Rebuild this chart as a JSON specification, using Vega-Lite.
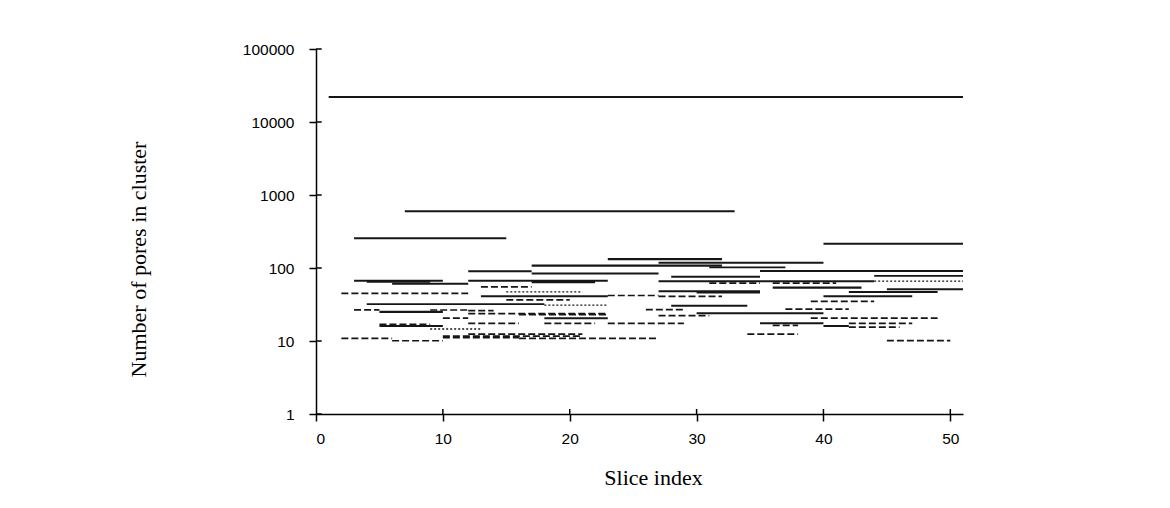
{
  "$schema": "https://vega.github.io/schema/vega-lite/v6.json",
  "width": 647,
  "height": 365,
  "autosize": "none",
  "padding": {"left": 316, "top": 49, "right": 207, "bottom": 94},
  "background": "white",
  "config": {
    "view": {"stroke": null},
    "axis": {
      "grid": false,
      "domainColor": "#000",
      "domainWidth": 1.5,
      "tickColor": "#000",
      "tickWidth": 1.5,
      "tickSize": 7,
      "labelColor": "#000",
      "labelFont": "Liberation Sans",
      "labelFontSize": 15.5,
      "titleColor": "#000",
      "titleFont": "Liberation Serif",
      "titleFontSize": 22,
      "titleFontWeight": "normal"
    }
  },
  "datasets": {
    "segments": [
      {"start": 1, "end": 51, "pores": 22000, "kind": "main"},
      {"start": 7, "end": 33, "pores": 600, "kind": "solid"},
      {"start": 3, "end": 15, "pores": 255, "kind": "solid"},
      {"start": 40, "end": 51, "pores": 215, "kind": "solid"},
      {"start": 23, "end": 32, "pores": 132, "kind": "main"},
      {"start": 27, "end": 40, "pores": 118, "kind": "solid"},
      {"start": 17, "end": 32, "pores": 108, "kind": "main"},
      {"start": 31, "end": 37, "pores": 102, "kind": "solid"},
      {"start": 12, "end": 17, "pores": 90, "kind": "solid"},
      {"start": 17, "end": 27, "pores": 84, "kind": "solid"},
      {"start": 35, "end": 51, "pores": 91, "kind": "solid"},
      {"start": 28, "end": 35, "pores": 76, "kind": "solid"},
      {"start": 44, "end": 51, "pores": 78, "kind": "solid"},
      {"start": 3, "end": 10, "pores": 67, "kind": "solid"},
      {"start": 4, "end": 9, "pores": 65, "kind": "solid"},
      {"start": 6, "end": 12, "pores": 61, "kind": "solid"},
      {"start": 12, "end": 23, "pores": 67, "kind": "solid"},
      {"start": 17, "end": 22, "pores": 64, "kind": "main"},
      {"start": 27, "end": 44, "pores": 66, "kind": "solid"},
      {"start": 44, "end": 51, "pores": 66, "kind": "dot"},
      {"start": 31, "end": 35, "pores": 62, "kind": "dash"},
      {"start": 36, "end": 41, "pores": 62, "kind": "dash"},
      {"start": 13, "end": 17, "pores": 55, "kind": "dash"},
      {"start": 36, "end": 43, "pores": 54, "kind": "main"},
      {"start": 45, "end": 51, "pores": 51, "kind": "solid"},
      {"start": 15, "end": 21, "pores": 47, "kind": "dot"},
      {"start": 27, "end": 35, "pores": 48, "kind": "solid"},
      {"start": 30, "end": 35, "pores": 46.5, "kind": "main"},
      {"start": 42, "end": 49, "pores": 47, "kind": "solid"},
      {"start": 2, "end": 12, "pores": 45, "kind": "dash"},
      {"start": 13, "end": 23, "pores": 41, "kind": "solid"},
      {"start": 23, "end": 27, "pores": 42, "kind": "dashbold"},
      {"start": 27, "end": 32, "pores": 41, "kind": "dash"},
      {"start": 40, "end": 47, "pores": 41, "kind": "solid"},
      {"start": 15, "end": 20, "pores": 36.5, "kind": "dash"},
      {"start": 39, "end": 44, "pores": 35, "kind": "dash"},
      {"start": 4, "end": 18, "pores": 32, "kind": "solid"},
      {"start": 18, "end": 23, "pores": 31, "kind": "dot"},
      {"start": 28, "end": 34, "pores": 30.5, "kind": "solid"},
      {"start": 3, "end": 5, "pores": 26.6, "kind": "dash"},
      {"start": 5, "end": 10, "pores": 25, "kind": "main"},
      {"start": 9, "end": 12, "pores": 26.6, "kind": "dashbold"},
      {"start": 12, "end": 14, "pores": 26, "kind": "dash"},
      {"start": 12, "end": 23, "pores": 23.7, "kind": "dash"},
      {"start": 16, "end": 23, "pores": 23, "kind": "dash"},
      {"start": 26, "end": 29, "pores": 27, "kind": "dash"},
      {"start": 37, "end": 42, "pores": 27.4, "kind": "dash"},
      {"start": 30, "end": 40, "pores": 24, "kind": "solid"},
      {"start": 27, "end": 31, "pores": 22.2, "kind": "dash"},
      {"start": 10, "end": 12, "pores": 20.5, "kind": "dash"},
      {"start": 18, "end": 23, "pores": 20.5, "kind": "solid"},
      {"start": 39, "end": 49, "pores": 20.5, "kind": "dash"},
      {"start": 12, "end": 16, "pores": 17.5, "kind": "dash"},
      {"start": 5, "end": 9, "pores": 17, "kind": "dashbold"},
      {"start": 18, "end": 22, "pores": 17.5, "kind": "dash"},
      {"start": 23, "end": 29, "pores": 17.5, "kind": "dash"},
      {"start": 35, "end": 40, "pores": 17.5, "kind": "solid"},
      {"start": 42, "end": 47, "pores": 17.5, "kind": "dash"},
      {"start": 5, "end": 10, "pores": 16, "kind": "solid"},
      {"start": 36, "end": 38, "pores": 16.4, "kind": "dash"},
      {"start": 40, "end": 42, "pores": 16, "kind": "solid"},
      {"start": 42, "end": 46, "pores": 15.5, "kind": "dash"},
      {"start": 9, "end": 13, "pores": 14.6, "kind": "dot"},
      {"start": 12, "end": 21, "pores": 12.4, "kind": "dash"},
      {"start": 10, "end": 21, "pores": 11.7, "kind": "dash"},
      {"start": 34, "end": 38, "pores": 12.4, "kind": "dash"},
      {"start": 2, "end": 6, "pores": 10.9, "kind": "dash"},
      {"start": 6, "end": 10, "pores": 10.1, "kind": "dashbold"},
      {"start": 10, "end": 16, "pores": 11.1, "kind": "dash"},
      {"start": 16, "end": 27, "pores": 10.9, "kind": "dash"},
      {"start": 45, "end": 50, "pores": 10.1, "kind": "dash"}
    ],
    "yTicks": [
      {"pores": 1}, {"pores": 10}, {"pores": 100},
      {"pores": 1000}, {"pores": 10000}, {"pores": 100000}
    ],
    "xTicks": [
      {"slice": 10}, {"slice": 20}, {"slice": 30}, {"slice": 40}, {"slice": 50}
    ]
  },
  "layer": [
    {
      "data": {"name": "segments"},
      "mark": {"type": "rule", "color": "#161616"},
      "encoding": {
        "x": {
          "field": "start",
          "type": "quantitative",
          "scale": {"domain": [0, 51], "nice": false, "zero": false},
          "axis": {
            "values": [0, 10, 20, 30, 40, 50],
            "labelPadding": 10,
            "title": "Slice index",
            "titleX": 337,
            "titleY": 70,
            "titleBaseline": "alphabetic",
            "titleAlign": "center"
          }
        },
        "x2": {"field": "end"},
        "y": {
          "field": "pores",
          "type": "quantitative",
          "scale": {"type": "log", "domain": [1, 100000], "nice": false},
          "axis": {
            "values": [1, 10, 100, 1000, 10000, 100000],
            "format": "d",
            "labelPadding": 15,
            "title": "Number of pores in cluster",
            "titleAngle": -90,
            "titleX": -171,
            "titleY": 210,
            "titleBaseline": "alphabetic",
            "titleAlign": "center"
          }
        },
        "strokeDash": {
          "field": "kind",
          "type": "nominal",
          "scale": {
            "domain": ["main", "solid", "dash", "dashbold", "dot"],
            "range": [[1, 0], [1, 0], [7, 3], [7, 3], [2, 2]]
          },
          "legend": null
        },
        "size": {
          "field": "kind",
          "type": "nominal",
          "scale": {
            "domain": ["main", "solid", "dash", "dashbold", "dot"],
            "range": [2.2, 1.3, 1.4, 2.2, 1.1]
          },
          "legend": null
        }
      }
    },
    {
      "data": {"name": "yTicks"},
      "mark": {"type": "rule", "color": "#000", "strokeWidth": 1.5},
      "encoding": {
        "y": {"field": "pores", "type": "quantitative"},
        "x": {"datum": 0},
        "x2": {"datum": 0.45}
      }
    },
    {
      "data": {"name": "xTicks"},
      "mark": {"type": "rule", "color": "#000", "strokeWidth": 1.5},
      "encoding": {
        "x": {"field": "slice", "type": "quantitative"},
        "y": {"datum": 1},
        "y2": {"datum": 1.17}
      }
    }
  ]
}
